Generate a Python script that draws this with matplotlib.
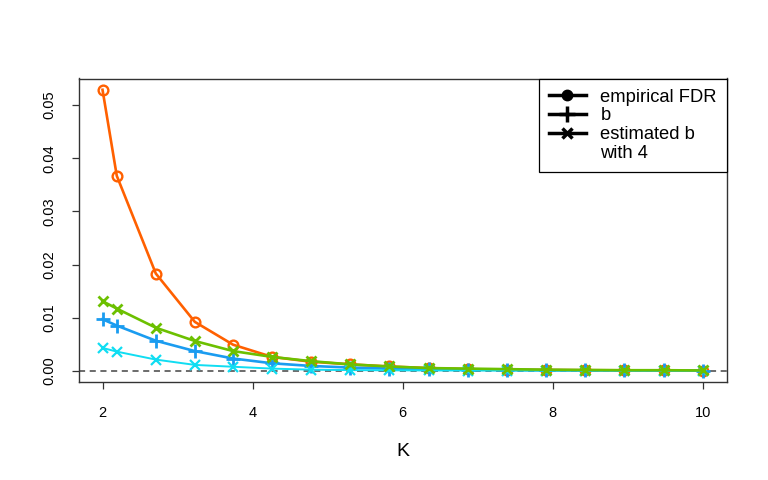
import matplotlib
matplotlib.use("Agg")
import matplotlib.pyplot as plt
from matplotlib.lines import Line2D

plt.rcParams['font.family'] = ['Liberation Sans', 'DejaVu Sans']

K = [2.00, 2.19, 2.71, 3.23, 3.74, 4.26, 4.78, 5.30, 5.82, 6.35, 6.87, 7.39, 7.91, 8.43, 8.95, 9.48, 10.00]
empirical_fdr = [0.0529, 0.0367, 0.0183, 0.0092, 0.0049, 0.0026, 0.0017, 0.0012, 0.0008, 0.0005,
                 0.0003, 0.0002, 0.00015, 0.0001, 0.00008, 0.00005, 0.00004]
b_vals = [0.0097, 0.0085, 0.00565, 0.0037, 0.0023, 0.0014, 0.0009, 0.0006, 0.0004, 0.0003,
          0.0002, 0.00015, 0.0001, 0.00008, 0.00006, 0.00005, 0.00004]
est_b = [0.0131, 0.0117, 0.0081, 0.0056, 0.0037, 0.0026, 0.0018, 0.0012, 0.0008, 0.0005,
         0.0004, 0.0003, 0.0002, 0.00015, 0.0001, 0.0001, 0.00005]
est_b4 = [0.0043, 0.0036, 0.0021, 0.0011, 0.00075, 0.0004, 0.0002, 0.00012, 0.00008, 0.00005,
          0.00004, 0.00003, 0.00002, 0.00002, 0.00001, 0.00001, 0.00001]

legend_labels = ["empirical FDR", "b", "estimated b", "with 4"]

c_orange = '#FF6000'
c_blue = '#1A9CF0'
c_cyan = '#10DDF2'
c_green = '#6CC000'

fig = plt.figure(figsize=(7.68, 4.8), dpi=100)
ax = fig.add_axes([78.5/768, 1-382/480, (727-78.5)/768, (382-78.5)/480])

ax.axhline(0, color='#444444', lw=1.1, ls=(0, (4, 3)), zorder=1)

ax.plot(K, empirical_fdr, color=c_orange, lw=1.9, marker='o', ms=7, mfc='none', mec=c_orange, mew=1.7, zorder=3)
ax.plot(K, b_vals, color=c_blue, lw=1.9, marker='+', ms=10, mew=2.0, zorder=4)
ax.plot(K, est_b4, color=c_cyan, lw=1.4, marker='x', ms=7, mew=1.6, zorder=5)
ax.plot(K, est_b, color=c_green, lw=1.9, marker='x', ms=7.5, mew=2.0, zorder=6)

ax.set_xlim(1.68, 10.32)
ax.set_ylim(-0.00212, 0.05502)
ax.set_xticks([2, 4, 6, 8, 10])
ax.set_yticks([0.0, 0.01, 0.02, 0.03, 0.04, 0.05])
ax.set_yticklabels(['0.00', '0.01', '0.02', '0.03', '0.04', '0.05'], rotation=90, va='center')
ax.tick_params(axis='both', direction='out', length=5, width=0.9, color='#333333',
               labelsize=10.5, labelcolor='black')
ax.tick_params(axis='x', pad=12)
ax.tick_params(axis='y', pad=11)
for s in ax.spines.values():
    s.set_color('#333333')
    s.set_linewidth(1.0)

ax.set_xlabel('K', fontsize=14, labelpad=17)

handles = [Line2D([], [], color='black', lw=2.5, marker='o', ms=7.5),
           Line2D([], [], color='black', lw=2.5, marker='+', ms=11, mew=2.5),
           Line2D([], [], color='black', lw=2.5, marker='x', ms=7.5, mew=2.5),
           Line2D([], [], color='none', lw=0)]
leg = ax.legend(handles, legend_labels, loc='upper right', bbox_to_anchor=(1.0, 1.0),
                borderaxespad=0, fancybox=False, edgecolor='black', framealpha=1,
                fontsize=13.2, labelspacing=0.1, handlelength=2.0, handletextpad=0.8,
                borderpad=0.55)
leg.get_frame().set_linewidth(0.9)

fig.savefig('out.png', dpi=100)
